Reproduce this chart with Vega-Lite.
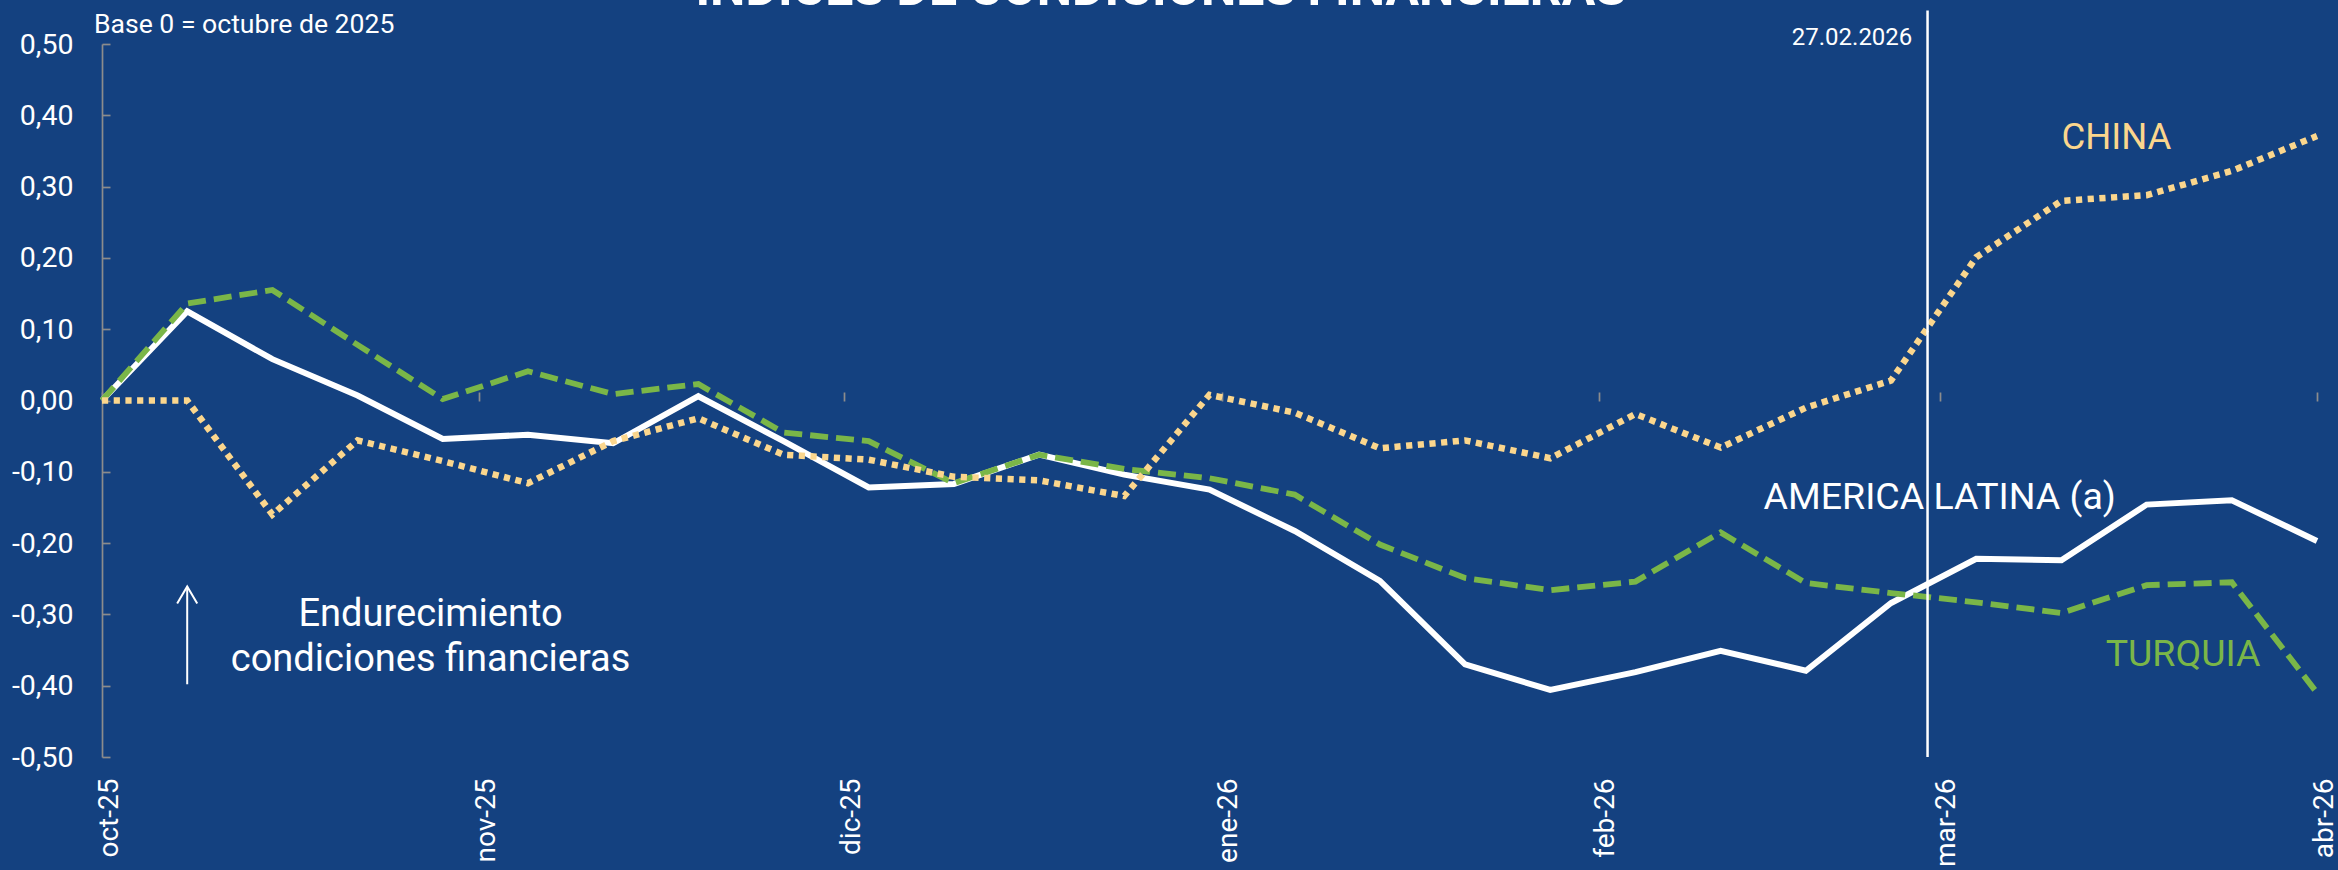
{
  "$schema": "https://vega.github.io/schema/vega-lite/v6.json",
  "width": 2215,
  "height": 713,
  "autosize": {"type": "none"},
  "padding": {"left": 102, "top": 44, "right": 21, "bottom": 113},
  "background": "#144180",
  "config": {
    "view": {"stroke": null},
    "font": "Roboto",
    "axis": {"labelFont": "Roboto", "grid": false, "title": null}
  },
  "datasets": {
    "series": [
      {"date": "2025-10-01T00:00", "serie": "AL", "value": 0},
      {"date": "2025-10-08T00:00", "serie": "AL", "value": 0.125},
      {"date": "2025-10-15T00:00", "serie": "AL", "value": 0.058},
      {"date": "2025-10-22T00:00", "serie": "AL", "value": 0.007},
      {"date": "2025-10-29T00:00", "serie": "AL", "value": -0.054},
      {"date": "2025-11-05T00:00", "serie": "AL", "value": -0.048},
      {"date": "2025-11-12T00:00", "serie": "AL", "value": -0.060},
      {"date": "2025-11-19T00:00", "serie": "AL", "value": 0.006},
      {"date": "2025-11-26T00:00", "serie": "AL", "value": -0.057},
      {"date": "2025-12-03T00:00", "serie": "AL", "value": -0.122},
      {"date": "2025-12-10T00:00", "serie": "AL", "value": -0.117},
      {"date": "2025-12-17T00:00", "serie": "AL", "value": -0.076},
      {"date": "2025-12-24T00:00", "serie": "AL", "value": -0.104},
      {"date": "2025-12-31T00:00", "serie": "AL", "value": -0.125},
      {"date": "2026-01-07T00:00", "serie": "AL", "value": -0.183},
      {"date": "2026-01-14T00:00", "serie": "AL", "value": -0.253},
      {"date": "2026-01-21T00:00", "serie": "AL", "value": -0.370},
      {"date": "2026-01-28T00:00", "serie": "AL", "value": -0.406},
      {"date": "2026-02-04T00:00", "serie": "AL", "value": -0.381},
      {"date": "2026-02-11T00:00", "serie": "AL", "value": -0.351},
      {"date": "2026-02-18T00:00", "serie": "AL", "value": -0.379},
      {"date": "2026-02-25T00:00", "serie": "AL", "value": -0.284},
      {"date": "2026-03-04T00:00", "serie": "AL", "value": -0.222},
      {"date": "2026-03-11T00:00", "serie": "AL", "value": -0.224},
      {"date": "2026-03-18T00:00", "serie": "AL", "value": -0.146},
      {"date": "2026-03-25T00:00", "serie": "AL", "value": -0.140},
      {"date": "2026-04-01T00:00", "serie": "AL", "value": -0.197},
      {"date": "2025-10-01T00:00", "serie": "TUR", "value": 0},
      {"date": "2025-10-08T00:00", "serie": "TUR", "value": 0.136},
      {"date": "2025-10-15T00:00", "serie": "TUR", "value": 0.155},
      {"date": "2025-10-22T00:00", "serie": "TUR", "value": 0.078},
      {"date": "2025-10-29T00:00", "serie": "TUR", "value": 0.002},
      {"date": "2025-11-05T00:00", "serie": "TUR", "value": 0.041},
      {"date": "2025-11-12T00:00", "serie": "TUR", "value": 0.009},
      {"date": "2025-11-19T00:00", "serie": "TUR", "value": 0.023},
      {"date": "2025-11-26T00:00", "serie": "TUR", "value": -0.045},
      {"date": "2025-12-03T00:00", "serie": "TUR", "value": -0.057},
      {"date": "2025-12-10T00:00", "serie": "TUR", "value": -0.116},
      {"date": "2025-12-17T00:00", "serie": "TUR", "value": -0.076},
      {"date": "2025-12-24T00:00", "serie": "TUR", "value": -0.096},
      {"date": "2025-12-31T00:00", "serie": "TUR", "value": -0.109},
      {"date": "2026-01-07T00:00", "serie": "TUR", "value": -0.132},
      {"date": "2026-01-14T00:00", "serie": "TUR", "value": -0.202},
      {"date": "2026-01-21T00:00", "serie": "TUR", "value": -0.249},
      {"date": "2026-01-28T00:00", "serie": "TUR", "value": -0.266},
      {"date": "2026-02-04T00:00", "serie": "TUR", "value": -0.254},
      {"date": "2026-02-11T00:00", "serie": "TUR", "value": -0.185},
      {"date": "2026-02-18T00:00", "serie": "TUR", "value": -0.256},
      {"date": "2026-02-25T00:00", "serie": "TUR", "value": -0.270},
      {"date": "2026-03-04T00:00", "serie": "TUR", "value": -0.283},
      {"date": "2026-03-11T00:00", "serie": "TUR", "value": -0.298},
      {"date": "2026-03-18T00:00", "serie": "TUR", "value": -0.259},
      {"date": "2026-03-25T00:00", "serie": "TUR", "value": -0.255},
      {"date": "2026-04-01T00:00", "serie": "TUR", "value": -0.410},
      {"date": "2025-10-01T00:00", "serie": "CHN", "value": 0},
      {"date": "2025-10-08T00:00", "serie": "CHN", "value": 0.000},
      {"date": "2025-10-15T00:00", "serie": "CHN", "value": -0.160},
      {"date": "2025-10-22T00:00", "serie": "CHN", "value": -0.056},
      {"date": "2025-10-29T00:00", "serie": "CHN", "value": -0.085},
      {"date": "2025-11-05T00:00", "serie": "CHN", "value": -0.116},
      {"date": "2025-11-12T00:00", "serie": "CHN", "value": -0.057},
      {"date": "2025-11-19T00:00", "serie": "CHN", "value": -0.025},
      {"date": "2025-11-26T00:00", "serie": "CHN", "value": -0.076},
      {"date": "2025-12-03T00:00", "serie": "CHN", "value": -0.083},
      {"date": "2025-12-10T00:00", "serie": "CHN", "value": -0.107},
      {"date": "2025-12-17T00:00", "serie": "CHN", "value": -0.112},
      {"date": "2025-12-24T00:00", "serie": "CHN", "value": -0.134},
      {"date": "2025-12-31T00:00", "serie": "CHN", "value": 0.008},
      {"date": "2026-01-07T00:00", "serie": "CHN", "value": -0.017},
      {"date": "2026-01-14T00:00", "serie": "CHN", "value": -0.067},
      {"date": "2026-01-21T00:00", "serie": "CHN", "value": -0.056},
      {"date": "2026-01-28T00:00", "serie": "CHN", "value": -0.081},
      {"date": "2026-02-04T00:00", "serie": "CHN", "value": -0.019},
      {"date": "2026-02-11T00:00", "serie": "CHN", "value": -0.066},
      {"date": "2026-02-18T00:00", "serie": "CHN", "value": -0.010},
      {"date": "2026-02-25T00:00", "serie": "CHN", "value": 0.028},
      {"date": "2026-03-04T00:00", "serie": "CHN", "value": 0.201},
      {"date": "2026-03-11T00:00", "serie": "CHN", "value": 0.280},
      {"date": "2026-03-18T00:00", "serie": "CHN", "value": 0.288},
      {"date": "2026-03-25T00:00", "serie": "CHN", "value": 0.322},
      {"date": "2026-04-01T00:00", "serie": "CHN", "value": 0.371}
    ],
    "notes": [
      {"id": "title", "date": "2025-12-27T00:00", "value": 0.5549, "label": "ÍNDICES DE CONDICIONES FINANCIERAS"},
      {"id": "base", "date": "2025-09-30T08:00", "value": 0.5154, "label": "Base 0 = octubre de 2025"},
      {"id": "fecha", "date": "2026-02-26T18:00", "value": 0.498, "label": "27.02.2026"},
      {"id": "china", "date": "2026-03-11T00:00", "value": 0.3524, "label": "CHINA"},
      {"id": "al", "date": "2026-03-01T00:00", "value": -0.1516, "label": "AMERICA LATINA (a)"},
      {"id": "tur", "date": "2026-03-21T00:00", "value": -0.3729, "label": "TURQUIA"},
      {"id": "endur", "date": "2025-10-28T00:00", "value": -0.3169, "label": "Endurecimiento\ncondiciones financieras"},
      {"id": "vline", "date": "2026-02-28T00:00", "value": 0.547, "value2": -0.5, "label": ""},
      {"id": "arrow", "date": "2025-10-08T00:00", "value": -0.2609, "value2": -0.398, "label": ""}
    ]
  },
  "resolve": {"axis": {"x": "independent"}},
  "layer": [
    {
      "mark": {"type": "rule", "color": "#8C8C8C", "strokeWidth": 1.7},
      "encoding": {
        "y": {"datum": 0, "type": "quantitative", "scale": {"domain": [-0.5, 0.5], "nice": false, "zero": false}}
      }
    },
    {
      "data": {"name": "series"},
      "transform": [{"filter": "datum.serie == 'AL'"}],
      "mark": {"type": "line", "color": "#FFFFFF", "strokeWidth": 6, "strokeJoin": "miter"},
      "encoding": {
        "x": {
          "field": "date", "type": "temporal",
          "scale": {"domain": [{"year": 2025, "month": 10, "date": 1}, {"year": 2026, "month": 4, "date": 1}], "nice": false},
          "axis": {
            "orient": "bottom",
            "values": [{"year": 2025, "month": 10, "date": 1}, {"year": 2025, "month": 11, "date": 1}, {"year": 2025, "month": 12, "date": 1}, {"year": 2026, "month": 1, "date": 1}, {"year": 2026, "month": 2, "date": 1}, {"year": 2026, "month": 3, "date": 1}, {"year": 2026, "month": 4, "date": 1}],
            "labelExpr": "['ene','feb','mar','abr','may','jun','jul','ago','sep','oct','nov','dic'][month(datum.value)] + '-' + timeFormat(datum.value, '%y')",
            "labelAngle": 270,
            "labelFontSize": 28,
            "labelColor": "#FFFFFF",
            "labelPadding": 21,
            "labelOffset": 7,
            "labelOverlap": false,
            "labelFlush": false,
            "labelBound": false,
            "ticks": false,
            "domain": false,
            "grid": false,
            "title": null
          }
        },
        "y": {
          "field": "value", "type": "quantitative",
          "scale": {"domain": [-0.5, 0.5], "nice": false, "zero": false},
          "axis": {
            "values": [-0.5, -0.4, -0.3, -0.2, -0.1, 0, 0.1, 0.2, 0.3, 0.4, 0.5],
            "labelExpr": "(datum.value < -0.001 ? '-' : '') + replace(format(abs(datum.value), '.2f'), '.', ',')",
            "labelFontSize": 28.5,
            "labelColor": "#FFFFFF",
            "domainColor": "#8C8C8C",
            "domainWidth": 1.7,
            "tickColor": "#8C8C8C",
            "tickWidth": 1.7,
            "tickSize": -8,
            "labelPadding": 37,
            "labelOverlap": false,
            "labelFlush": false,
            "labelBound": false,
            "grid": false,
            "title": null
          }
        }
      }
    },
    {
      "data": {"name": "series"},
      "transform": [{"filter": "datum.serie == 'TUR'"}],
      "mark": {"type": "line", "color": "#7AB648", "strokeWidth": 5.8, "strokeDash": [18, 8], "strokeCap": "butt"},
      "encoding": {
        "x": {
          "field": "date", "type": "temporal",
          "axis": {
            "orient": "bottom",
            "offset": -356,
            "values": [{"year": 2025, "month": 10, "date": 1}, {"year": 2025, "month": 11, "date": 1}, {"year": 2025, "month": 12, "date": 1}, {"year": 2026, "month": 1, "date": 1}, {"year": 2026, "month": 2, "date": 1}, {"year": 2026, "month": 3, "date": 1}, {"year": 2026, "month": 4, "date": 1}],
            "labels": false,
            "domain": false,
            "ticks": true,
            "tickSize": -9,
            "tickColor": "#8C8C8C",
            "tickWidth": 1.7,
            "grid": false,
            "title": null
          }
        },
        "y": {"field": "value", "type": "quantitative"}
      }
    },
    {
      "data": {"name": "series"},
      "transform": [{"filter": "datum.serie == 'CHN'"}],
      "mark": {"type": "line", "color": "#FBD68D", "strokeWidth": 6.5, "strokeDash": [6.2, 5.5], "strokeCap": "butt"},
      "encoding": {
        "x": {"field": "date", "type": "temporal", "axis": null},
        "y": {"field": "value", "type": "quantitative"}
      }
    },
    {
      "data": {"name": "notes"},
      "transform": [{"filter": "datum.id == 'vline'"}],
      "mark": {"type": "rule", "color": "#FFFFFF", "strokeWidth": 2.5},
      "encoding": {
        "x": {"field": "date", "type": "temporal", "axis": null},
        "y": {"field": "value", "type": "quantitative"},
        "y2": {"field": "value2"}
      }
    },
    {
      "data": {"name": "notes"},
      "transform": [{"filter": "datum.id == 'arrow'"}],
      "mark": {"type": "rule", "color": "#FFFFFF", "strokeWidth": 2},
      "encoding": {
        "x": {"field": "date", "type": "temporal", "axis": null},
        "y": {"field": "value", "type": "quantitative"},
        "y2": {"field": "value2"}
      }
    },
    {
      "data": {"name": "notes"},
      "transform": [{"filter": "datum.id == 'arrow'"}],
      "mark": {"type": "point", "shape": "M-1.18,2L0,0L1.18,2", "size": 289, "filled": false, "fill": null, "stroke": "#FFFFFF", "strokeWidth": 2, "opacity": 1},
      "encoding": {
        "x": {"field": "date", "type": "temporal", "axis": null},
        "y": {"field": "value", "type": "quantitative"}
      }
    },
    {
      "data": {"name": "notes"},
      "transform": [{"filter": "datum.id == 'title'"}],
      "mark": {"type": "text", "font": "Roboto", "fontSize": 50, "fontWeight": "bold", "color": "#FFFFFF", "align": "center", "baseline": "alphabetic"},
      "encoding": {
        "x": {"field": "date", "type": "temporal", "axis": null},
        "y": {"field": "value", "type": "quantitative"},
        "text": {"field": "label"}
      }
    },
    {
      "data": {"name": "notes"},
      "transform": [{"filter": "datum.id == 'base'"}],
      "mark": {"type": "text", "font": "Roboto", "fontSize": 26.6, "color": "#FFFFFF", "align": "left", "baseline": "alphabetic"},
      "encoding": {
        "x": {"field": "date", "type": "temporal", "axis": null},
        "y": {"field": "value", "type": "quantitative"},
        "text": {"field": "label"}
      }
    },
    {
      "data": {"name": "notes"},
      "transform": [{"filter": "datum.id == 'fecha'"}],
      "mark": {"type": "text", "font": "Roboto", "fontSize": 24, "color": "#FFFFFF", "align": "right", "baseline": "alphabetic"},
      "encoding": {
        "x": {"field": "date", "type": "temporal", "axis": null},
        "y": {"field": "value", "type": "quantitative"},
        "text": {"field": "label"}
      }
    },
    {
      "data": {"name": "notes"},
      "transform": [{"filter": "datum.id == 'china'"}],
      "mark": {"type": "text", "font": "Roboto", "fontSize": 36.5, "color": "#FBD68D", "align": "left", "baseline": "alphabetic"},
      "encoding": {
        "x": {"field": "date", "type": "temporal", "axis": null},
        "y": {"field": "value", "type": "quantitative"},
        "text": {"field": "label"}
      }
    },
    {
      "data": {"name": "notes"},
      "transform": [{"filter": "datum.id == 'al'"}],
      "mark": {"type": "text", "font": "Roboto", "fontSize": 37.5, "color": "#FFFFFF", "align": "center", "baseline": "alphabetic"},
      "encoding": {
        "x": {"field": "date", "type": "temporal", "axis": null},
        "y": {"field": "value", "type": "quantitative"},
        "text": {"field": "label"}
      }
    },
    {
      "data": {"name": "notes"},
      "transform": [{"filter": "datum.id == 'tur'"}],
      "mark": {"type": "text", "font": "Roboto", "fontSize": 37.5, "color": "#7AB648", "align": "center", "baseline": "alphabetic"},
      "encoding": {
        "x": {"field": "date", "type": "temporal", "axis": null},
        "y": {"field": "value", "type": "quantitative"},
        "text": {"field": "label"}
      }
    },
    {
      "data": {"name": "notes"},
      "transform": [{"filter": "datum.id == 'endur'"}],
      "mark": {"type": "text", "font": "Roboto", "fontSize": 38, "color": "#FFFFFF", "align": "center", "baseline": "alphabetic", "lineBreak": "\n", "lineHeight": 45},
      "encoding": {
        "x": {"field": "date", "type": "temporal", "axis": null},
        "y": {"field": "value", "type": "quantitative"},
        "text": {"field": "label"}
      }
    }
  ]
}
